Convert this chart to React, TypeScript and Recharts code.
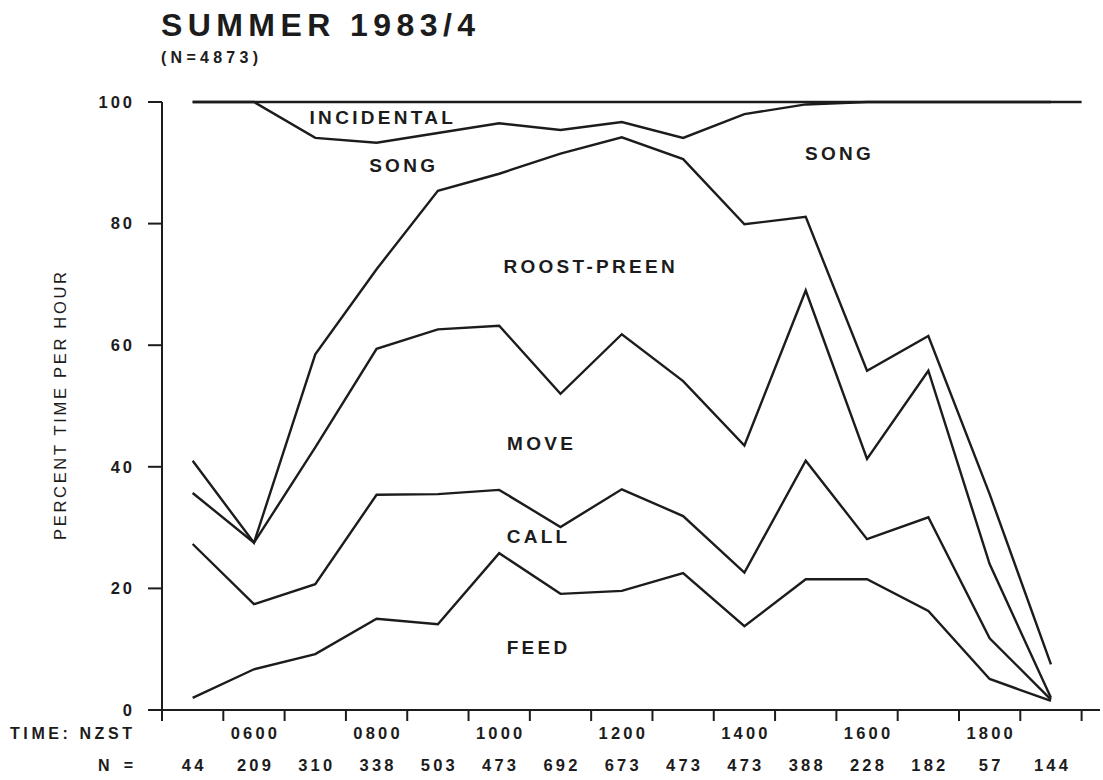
import React from 'react';
import { LineChart, Line, XAxis, YAxis, ReferenceLine, ReferenceDot } from 'recharts';

const HOURS = ['0500', '0600', '0700', '0800', '0900', '1000', '1100', '1200', '1300', '1400', '1500', '1600', '1700', '1800', '1900'];
const TIME_LABELS = ['', '0600', '', '0800', '', '1000', '', '1200', '', '1400', '', '1600', '', '1800', ''];
const N_VALUES = [44, 209, 310, 338, 503, 473, 692, 673, 473, 473, 388, 228, 182, 57, 144];

// cumulative percentages (upper boundary of each activity band)
const FEED = [2.0, 6.7, 9.2, 15.0, 14.1, 25.8, 19.1, 19.6, 22.5, 13.8, 21.5, 21.5, 16.3, 5.1, 1.5];
const CALL = [27.3, 17.4, 20.7, 35.4, 35.5, 36.2, 30.1, 36.3, 31.9, 22.6, 41.0, 28.1, 31.7, 11.8, 1.7];
const MOVE = [35.7, 27.5, 43.2, 59.4, 62.6, 63.2, 52.0, 61.8, 54.1, 43.5, 69.0, 41.3, 55.8, 24.0, 2.0];
const ROOST = [41.0, 27.5, 58.5, 72.5, 85.4, 88.2, 91.5, 94.2, 90.6, 79.9, 81.1, 55.8, 61.5, 35.5, 7.5];
const SONG = [100, 100, 94.1, 93.3, 94.9, 96.5, 95.4, 96.7, 94.1, 98.0, 99.6, 100, 100, 100, 100];

const Y_TICKS = [0, 20, 40, 60, 80, 100];

const data = HOURS.map((h, i) => ({
  x: i + 0.5,
  hour: h,
  feed: FEED[i],
  call: CALL[i],
  move: MOVE[i],
  roost: ROOST[i],
  song: SONG[i],
}));

const X_TICKS: number[] = [];
for (let i = 0; i <= HOURS.length * 2; i++) X_TICKS.push(i / 2);

const INK = '#1c1c1c';
const FONT = '"Liberation Sans", Arial, Helvetica, sans-serif';

const XTick = (props: any) => {
  const { x, y, payload } = props;
  const v = payload.value as number;
  if (Number.isInteger(v)) {
    return <line x1={x} x2={x} y1={y} y2={y + 11} stroke={INK} strokeWidth={2} />;
  }
  const idx = Math.floor(v);
  return (
    <g fontFamily={FONT} fontWeight="bold" fontSize={16.5} fill={INK} letterSpacing={3.2}>
      <text x={x + 1.5} y={y + 29} textAnchor="middle">{TIME_LABELS[idx]}</text>
      <text x={x + 1.5} y={y + 61} textAnchor="middle">{N_VALUES[idx]}</text>
    </g>
  );
};

const annot = (text: string) => (p: any) => {
  const vb = p.viewBox || {};
  const cx = (vb.x || 0) + (vb.width || 0) / 2;
  const cy = (vb.y || 0) + (vb.height || 0) / 2;
  return (
    <text
      x={cx + 2}
      y={cy}
      textAnchor="middle"
      dominantBaseline="central"
      fontFamily={FONT}
      fontWeight="bold"
      fontSize={19}
      letterSpacing={3.3}
      fill={INK}
    >
      {text}
    </text>
  );
};

const LABELS = [
  { text: 'INCIDENTAL', x: 3.57, y: 97.5 },
  { text: 'SONG', x: 3.91, y: 89.5 },
  { text: 'SONG', x: 11.02, y: 91.6 },
  { text: 'ROOST-PREEN', x: 6.96, y: 72.9 },
  { text: 'MOVE', x: 6.16, y: 43.9 },
  { text: 'CALL', x: 6.11, y: 28.5 },
  { text: 'FEED', x: 6.11, y: 10.2 },
];

const SERIES = ['feed', 'call', 'move', 'roost', 'song'];

export default function App() {
  return (
    <div style={{ position: 'absolute', left: 0, top: 0, width: 1103, height: 780, background: '#fff' }}>
      <LineChart
        width={1103}
        height={780}
        data={data}
        margin={{ top: 102, right: 3, bottom: 0, left: 102 }}
      >
        <XAxis
          dataKey="x"
          type="number"
          domain={[0, 15.3]}
          ticks={X_TICKS}
          interval={0}
          tickLine={false}
          tickSize={0}
          tickMargin={0}
          height={70}
          axisLine={{ stroke: INK, strokeWidth: 2 }}
          tick={<XTick />}
          allowDecimals
        />
        <YAxis
          type="number"
          domain={[0, 100]}
          ticks={Y_TICKS}
          width={60}
          tickSize={14}
          tickMargin={13}
          axisLine={{ stroke: INK, strokeWidth: 2 }}
          tickLine={{ stroke: INK, strokeWidth: 2 }}
          tick={{ fill: INK, fontSize: 16.5, fontWeight: 'bold', fontFamily: FONT, letterSpacing: 3 } as any}
        />
        <ReferenceLine
          segment={[{ x: 0.5, y: 100 }, { x: 15, y: 100 }]}
          stroke={INK}
          strokeWidth={2.4}
        />
        {SERIES.map((k) => (
          <Line
            key={k}
            dataKey={k}
            type="linear"
            stroke={INK}
            strokeWidth={2.4}
            dot={false}
            activeDot={false}
            isAnimationActive={false}
          />
        ))}
        {LABELS.map((l, i) => (
          <ReferenceDot
            key={i}
            x={l.x}
            y={l.y}
            r={0}
            fill="none"
            stroke="none"
            label={annot(l.text)}
          />
        ))}
      </LineChart>
      <svg
        width={1103}
        height={780}
        style={{ position: 'absolute', left: 0, top: 0, pointerEvents: 'none' }}
        fontFamily={FONT}
        fill={INK}
      >
        <text x={161} y={36} fontSize={32} fontWeight="bold" textLength={314} lengthAdjust="spacing">
          SUMMER 1983/4
        </text>
        <text x={161} y={63} fontSize={16} fontWeight="bold" textLength={97} lengthAdjust="spacing">
          (N=4873)
        </text>
        <text
          transform="translate(60,406) rotate(-90)"
          textAnchor="middle"
          dominantBaseline="central"
          fontSize={16.5}
          textLength={268}
          lengthAdjust="spacing"
        >
          PERCENT TIME PER HOUR
        </text>
        <text x={10} y={739} fontSize={16} fontWeight="bold" textLength={122} lengthAdjust="spacing">
          TIME: NZST
        </text>
        <text x={98} y={771} fontSize={16} fontWeight="bold" textLength={35} lengthAdjust="spacing">
          N =
        </text>
      </svg>
    </div>
  );
}
